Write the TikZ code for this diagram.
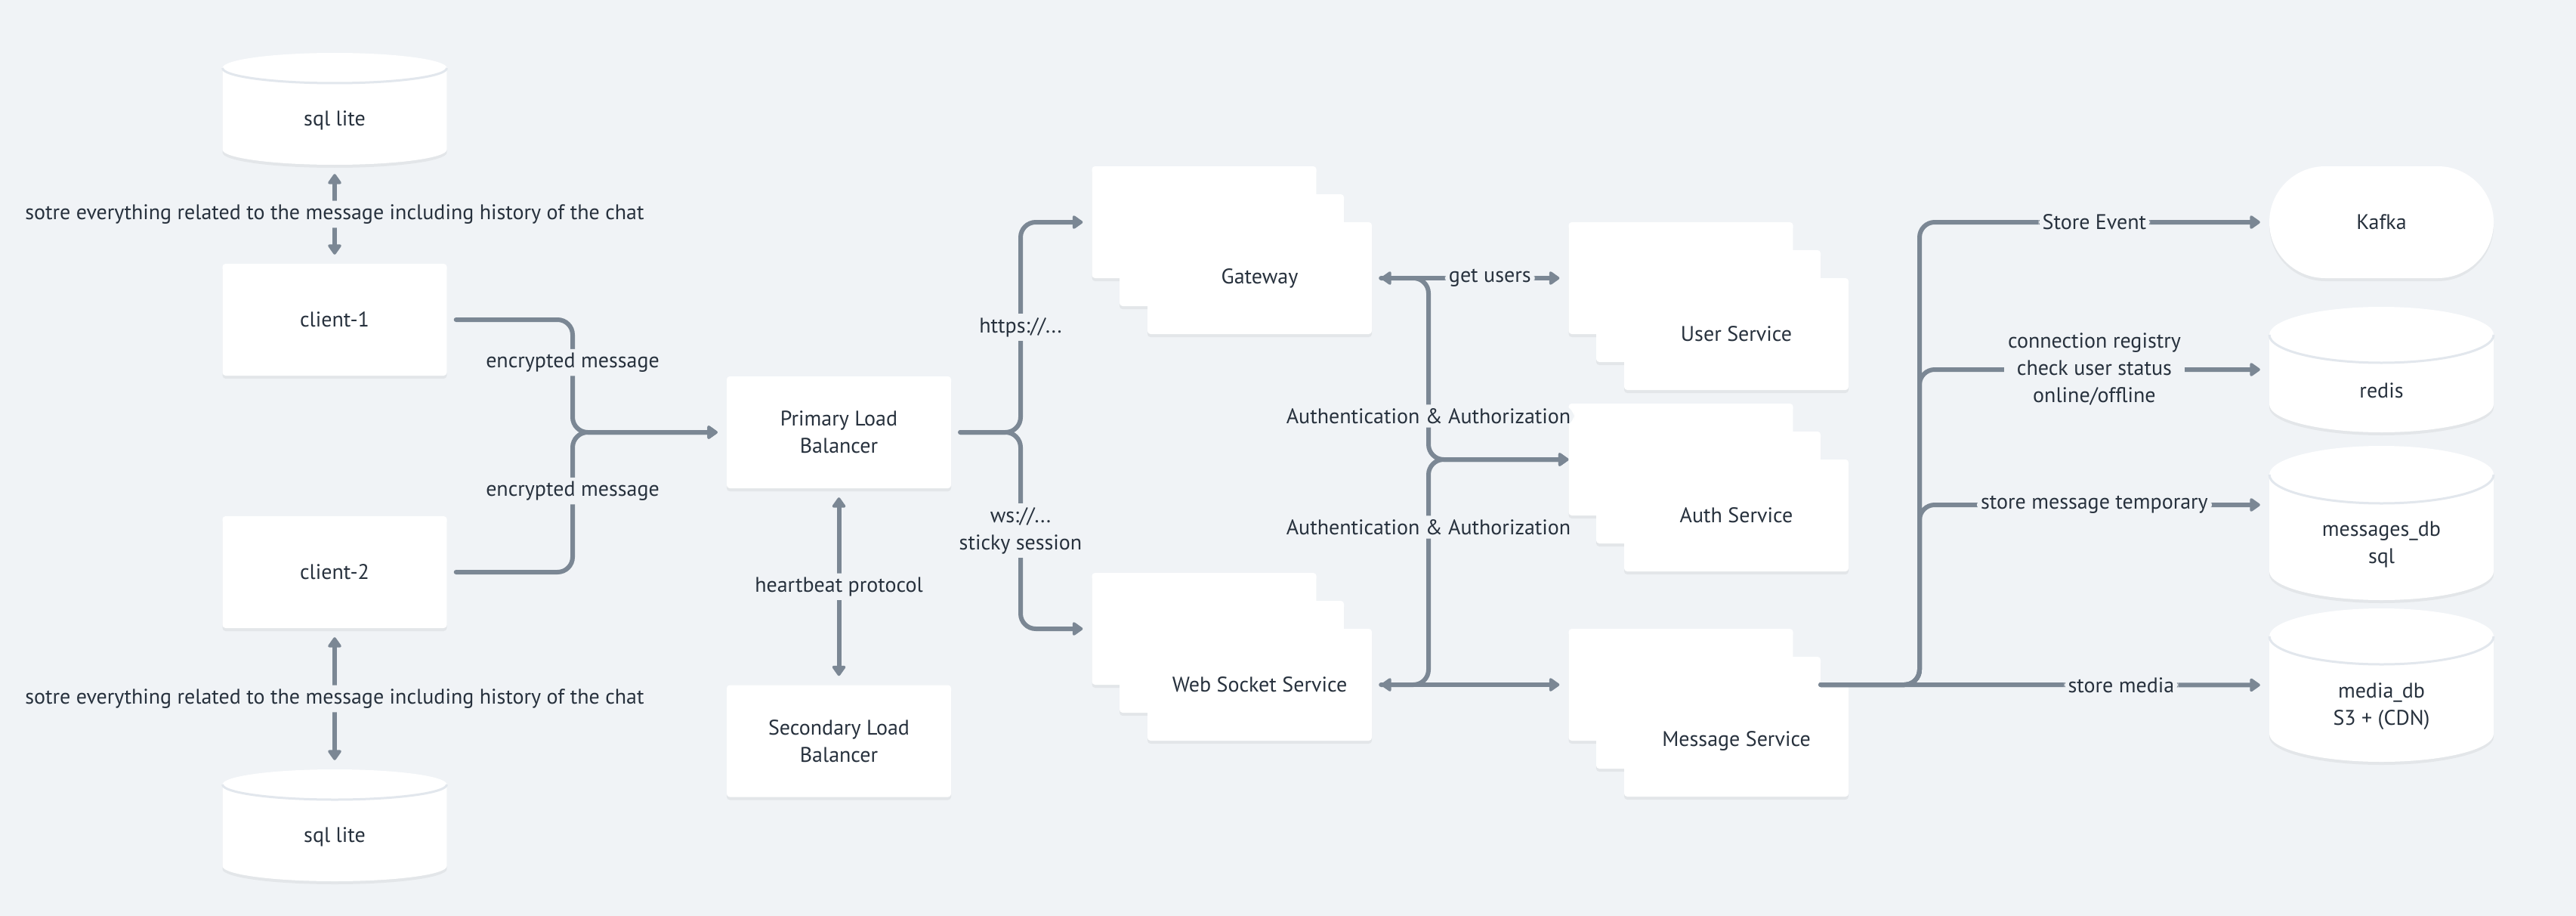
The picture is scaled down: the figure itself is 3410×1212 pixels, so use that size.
\documentclass[tikz,border=0pt]{standalone}
\usepackage{fontspec}
\setmainfont{PT Sans}
\usetikzlibrary{arrows.meta,shadows}
\definecolor{canvas}{HTML}{F0F3F6}
\definecolor{wire}{HTML}{7B8794}
\definecolor{ink}{HTML}{27313D}
\definecolor{rim}{HTML}{E2E7ED}
\def\boxw{297}
\def\boxh{148}
\def\halfw{148.5}
\newcommand{\stack}[4]{
  \node[svc] (#1) at (#2, #3) {};
  \node[svc] (#1-mid) at (#2 + 36.5, #3 + 37) {};
  \node[svc] (#1-top) at (#2 + 73.5, #3 + 74) {#4};
}
\newcommand{\database}[6]{
  \fill[white, softshadow] (#2 - \halfw, #3 - #4/2 + #5) -- (#2 - \halfw, #3 + #4/2 - #5)
    arc[start angle=180, end angle=360, x radius=\halfw pt, y radius=#5pt]
    -- (#2 + \halfw, #3 - #4/2 + #5)
    arc[start angle=0, end angle=180, x radius=\halfw pt, y radius=#5pt] -- cycle;
  \draw[draw=rim, line width=3pt] (#2 - \halfw, #3 - #4/2 + #5)
    arc[start angle=180, end angle=360, x radius=\halfw pt, y radius=#5pt];
  \node[dbslot, minimum height=#4pt] (#1) at (#2, #3) {};
  \node[txt] (#1-text) at (#2, #3 + 0.75*#5) {#6};
}

\begin{document}
\begin{tikzpicture}[x=1pt, y=-1pt,
    every node/.style={font=\fontsize{28}{36}\selectfont, text=ink},
    softshadow/.style={drop shadow={shadow xshift=0pt, shadow yshift=-4pt, opacity=0.05, fill=black}},
    svc/.style={fill=white, rounded corners=4pt, minimum width=\boxw pt, minimum height=\boxh pt, inner sep=0pt, align=center, softshadow},
    dbslot/.style={minimum width=\boxw pt, inner sep=0pt},
    txt/.style={align=center, inner sep=0pt},
    lbl/.style={fill=canvas, align=center, inner xsep=5pt, inner ysep=5pt},
    link/.style={draw=wire, line width=6pt, line cap=round, rounded corners=20pt, shorten <=12pt, shorten >=12pt, >={Triangle[length=15pt, width=20pt, round]}}]
  \fill[canvas] (0, 0) rectangle (3410, 1212);
  \database{sqltop}{443}{144}{148}{20}{sql lite}
  \database{sqlbot}{443}{1092}{148}{20}{sql lite}
  \node[svc] (client1) at (443, 423) {client-1};
  \node[svc] (client2) at (443, 757) {client-2};
  \node[svc] (plb) at (1110.5, 572) {Primary Load\\Balancer};
  \node[svc] (slb) at (1110.5, 980.5) {Secondary Load\\Balancer};
  \stack{gw}{1594}{294}{Gateway}
  \stack{ws}{1594}{832}{Web Socket Service}
  \stack{us}{2225}{368}{User Service}
  \stack{auth}{2225}{608}{Auth Service}
  \stack{msg}{2225}{906}{Message Service}
  \node[svc, rounded corners=74pt] (kafka) at (3152.5, 294) {Kafka};
  \database{redis}{3152.5}{489}{166}{37}{redis}
  \database{msgdb}{3152.5}{692}{204}{38}{messages\_db\\sql}
  \database{mediadb}{3152.5}{906.5}{203}{37}{media\_db\\S3 + (CDN)}
  \coordinate (joinC) at (758, 572);
  \coordinate (forkP) at (1351, 572);
  \coordinate (joinA) at (1891, 608);
  \coordinate (trunk) at (2541, 906);
  \coordinate (msgOut) at (msg-mid.east |- msg.east);
  \draw[link, <->] (sqltop) -- (client1) node[lbl, midway] {sotre everything related to the message including history of the chat};
  \draw[link, <->] (client2) -- (sqlbot) node[lbl, midway] {sotre everything related to the message including history of the chat};
  \draw[link, ->] (client1) -| (joinC) node[lbl, pos=0.69] {encrypted message} -- (plb);
  \draw[link, ->] (client2) -| (joinC) node[lbl, pos=0.79] {encrypted message} -- (plb);
  \draw[link, ->] (plb) -- (forkP) |- (gw) node[lbl, pos=0.25] {https://...};
  \draw[link, ->] (plb) -- (forkP) |- (ws) node[lbl, pos=0.25] {ws://...\\sticky session};
  \draw[link, <->] (plb) -- (slb) node[lbl, midway] {heartbeat protocol};
  \draw[link, <->] (gw-top) -- (us) node[lbl, pos=0.6] {get users};
  \draw[link, ->, shorten >=0pt] (gw-top) -| (joinA) node[lbl, pos=0.88] {Authentication \& Authorization} -- (auth);
  \draw[link, ->, shorten >=0pt] (ws-top) -| (joinA) node[lbl, pos=0.85] {Authentication \& Authorization} -- (auth);
  \draw[link, <->] (ws-top) -- (msg);
  \draw[link, ->, shorten <=0pt] (msgOut) -- (trunk) |- (kafka) node[lbl, pos=0.75] {Store Event};
  \draw[link, ->, shorten <=0pt] (msgOut) -- (trunk) |- (redis) node[lbl, pos=0.75] {connection registry\\check user status\\online/offline};
  \draw[link, ->, shorten <=0pt] (msgOut) -- (trunk) |- ([yshift=24pt]msgdb.west) node[lbl, pos=0.75] {store message temporary};
  \draw[link, ->, shorten <=0pt] (msgOut) -- (mediadb) node[lbl, pos=0.67] {store media};
\end{tikzpicture}
\end{document}
